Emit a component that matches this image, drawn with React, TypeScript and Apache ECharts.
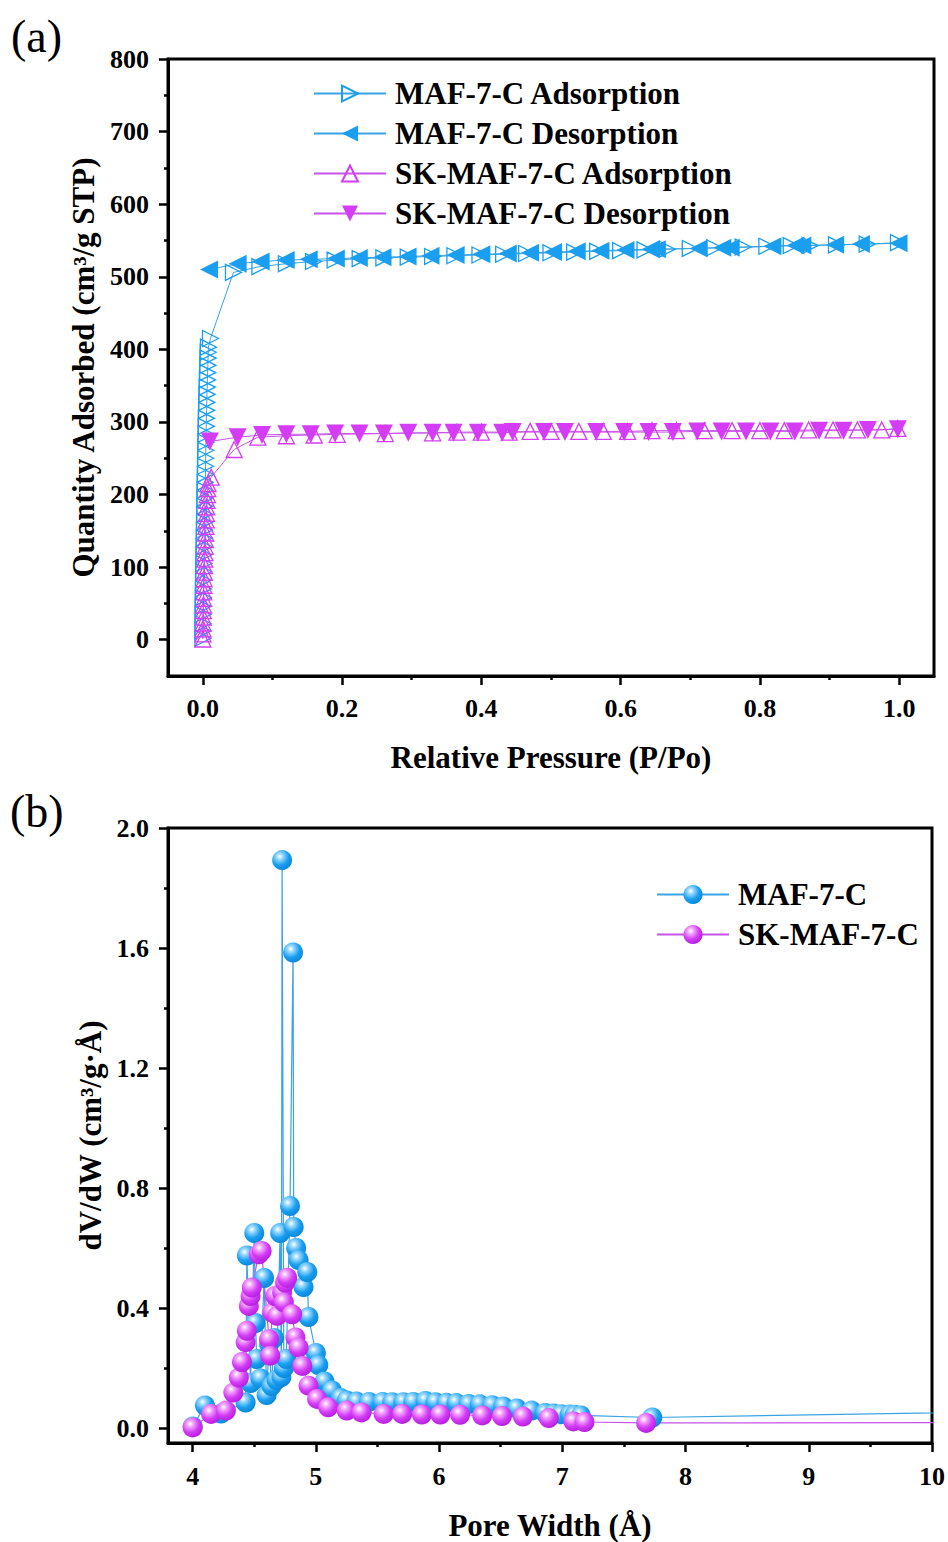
import React, { useEffect, useRef } from 'react';
import * as echarts from 'echarts';

const FONT = '"Liberation Serif", "Times New Roman", serif';
const BLUE = '#1a9ff0';
const BLUE_LINE = '#3aa3e3';
const MAG = '#d43cf5';
const MAG_LINE = '#c853ea';

// ---------- (a) N2 isotherms ----------
const pressureTicks = [0, 0.2, 0.4, 0.6, 0.8, 1.0];
const pressureMinorTicks = [0.1, 0.3, 0.5, 0.7, 0.9];
const quantityTicks = [0, 100, 200, 300, 400, 500, 600, 700, 800];
const quantityMinorTicks = [50, 150, 250, 350, 450, 550, 650, 750];

const mafAdsP = [0.0001, 0.0002, 0.0003, 0.0004, 0.0005, 0.0007, 0.0009, 0.0011, 0.0013, 0.0015, 0.0017, 0.0019, 0.0021, 0.0023, 0.0025, 0.0027, 0.0029, 0.0031, 0.0033, 0.0035, 0.0037, 0.0039, 0.0041, 0.0043, 0.0045, 0.0047, 0.0049, 0.0051, 0.0054, 0.0057, 0.006, 0.0063, 0.0066, 0.0069, 0.0072, 0.0075, 0.0078, 0.0081, 0.011, 0.044, 0.082, 0.12, 0.159, 0.19, 0.226, 0.26, 0.295, 0.33, 0.362, 0.398, 0.432, 0.465, 0.5, 0.534, 0.567, 0.6, 0.635, 0.667, 0.7, 0.735, 0.776, 0.81, 0.845, 0.872, 0.91, 0.954, 0.999];
const mafAdsQ = [2, 12, 22, 35, 46, 58, 70, 82, 94, 105, 117, 128, 140, 151, 162, 173, 184, 195, 206, 217, 228, 239, 250, 261, 272, 283, 294, 305, 316, 327, 338, 348, 358, 368, 378, 388, 396, 403, 415, 506, 514, 518, 521, 523, 525, 526, 527, 528, 529, 530, 531, 532, 533, 534, 535, 536, 537, 538, 539, 540, 541, 542, 543, 543, 544, 545, 547];

const mafDesP = [0.999, 0.945, 0.908, 0.861, 0.851, 0.818, 0.758, 0.746, 0.712, 0.652, 0.643, 0.607, 0.571, 0.537, 0.503, 0.47, 0.438, 0.4, 0.363, 0.327, 0.294, 0.258, 0.224, 0.191, 0.152, 0.119, 0.083, 0.05, 0.009];
const mafDesQ = [546, 545, 544, 543, 543, 542, 540, 540, 539, 538, 538, 537, 536, 535, 534, 533, 532, 531, 530, 529, 528, 527, 526, 525, 524, 523, 521, 518, 510];

const skAdsP = [0.0001, 0.0002, 0.0003, 0.0005, 0.0006, 0.0008, 0.001, 0.0012, 0.0014, 0.0016, 0.0019, 0.0022, 0.0025, 0.0028, 0.0031, 0.0034, 0.0037, 0.004, 0.0044, 0.0048, 0.0052, 0.0056, 0.006, 0.0065, 0.007, 0.0075, 0.012, 0.045, 0.079, 0.12, 0.16, 0.193, 0.262, 0.33, 0.365, 0.4, 0.44, 0.47, 0.5, 0.54, 0.575, 0.61, 0.645, 0.68, 0.72, 0.76, 0.8, 0.835, 0.87, 0.905, 0.94, 0.975, 0.998];
const skAdsQ = [1, 8, 15, 23, 31, 40, 48, 57, 66, 75, 84, 93, 102, 111, 120, 129, 138, 147, 156, 165, 174, 183, 192, 200, 208, 215, 224, 262, 279, 281, 282, 283, 284, 285, 286, 286, 286, 287, 287, 287, 287, 287, 288, 288, 288, 288, 288, 288, 289, 289, 289, 289, 291];

const skDesP = [0.998, 0.955, 0.92, 0.885, 0.85, 0.815, 0.78, 0.745, 0.71, 0.675, 0.64, 0.605, 0.565, 0.52, 0.49, 0.445, 0.43, 0.395, 0.36, 0.33, 0.295, 0.26, 0.225, 0.19, 0.155, 0.12, 0.085, 0.05, 0.01];
const skDesQ = [290, 289, 288, 288, 287, 287, 287, 287, 287, 286, 286, 286, 286, 286, 286, 286, 285, 285, 285, 285, 285, 284, 284, 284, 283, 283, 282, 279, 273];

// ---------- (b) pore size distribution ----------
const widthTicks = [4, 5, 6, 7, 8, 9, 10];
const widthMinorTicks = [4.5, 5.5, 6.5, 7.5, 8.5, 9.5];
const dvTicks = [0, 0.4, 0.8, 1.2, 1.6, 2.0];
const dvMinorTicks = [0.2, 0.6, 1.0, 1.4, 1.8];

const mafW = [4.0, 4.1, 4.23, 4.43, 4.44, 4.47, 4.5, 4.51, 4.52, 4.55, 4.58, 4.6, 4.62, 4.64, 4.66, 4.68, 4.71, 4.72, 4.726, 4.74, 4.76, 4.79, 4.815, 4.82, 4.84, 4.86, 4.9, 4.93, 4.94, 5.0, 5.02, 5.07, 5.13, 5.2, 5.25, 5.33, 5.43, 5.54, 5.62, 5.71, 5.79, 5.89, 5.97, 6.06, 6.14, 6.24, 6.33, 6.43, 6.52, 6.63, 6.75, 6.86, 6.93, 6.99, 7.06, 7.1, 7.15, 7.73, 11.0];
const mafDV = [0.005, 0.075, 0.048, 0.085, 0.575, 0.15, 0.65, 0.35, 0.23, 0.165, 0.5, 0.11, 0.28, 0.14, 0.3, 0.16, 0.65, 0.17, 1.893, 0.2, 0.23, 0.74, 1.585, 0.67, 0.6, 0.56, 0.47, 0.52, 0.37, 0.25, 0.21, 0.155, 0.125, 0.1, 0.092, 0.088, 0.087, 0.087, 0.086, 0.086, 0.087, 0.09, 0.086, 0.084, 0.083, 0.08, 0.079, 0.076, 0.072, 0.065, 0.058, 0.05, 0.048, 0.046, 0.045, 0.044, 0.042, 0.035, 0.057];

const skW = [4.0, 4.15, 4.27, 4.33, 4.375, 4.4, 4.43, 4.44, 4.456, 4.47, 4.48, 4.537, 4.56, 4.62, 4.63, 4.645, 4.67, 4.686, 4.726, 4.74, 4.75, 4.767, 4.807, 4.834, 4.86, 4.89, 4.94, 5.01, 5.1, 5.25, 5.37, 5.55, 5.7, 5.86, 6.01, 6.17, 6.35, 6.51, 6.68, 6.89, 7.09, 7.18, 7.68, 11.0];
const skDV = [0.002, 0.047, 0.058, 0.118, 0.168, 0.22, 0.286, 0.324, 0.407, 0.44, 0.468, 0.579, 0.59, 0.296, 0.241, 0.385, 0.44, 0.374, 0.452, 0.419, 0.485, 0.501, 0.379, 0.302, 0.268, 0.207, 0.141, 0.097, 0.069, 0.058, 0.052, 0.047, 0.047, 0.045, 0.045, 0.044, 0.042, 0.04, 0.038, 0.033, 0.022, 0.02, 0.017, 0.018];

const zip = (a: number[], b: number[]) => a.map((v, i) => [v, b[i]]);

const ball = (light: string, mid: string, dark: string) =>
  new echarts.graphic.RadialGradient(0.38, 0.32, 0.72, [
    { offset: 0, color: '#ffffff' },
    { offset: 0.22, color: light },
    { offset: 0.6, color: mid },
    { offset: 1, color: dark },
  ]);

const labelStyle = { fontFamily: FONT, fontWeight: 'bold' as const, fontSize: 26, color: '#000' };
const nameStyle = { fontFamily: FONT, fontWeight: 'bold' as const, fontSize: 31, color: '#000' };

function mainAxis(gridIndex: number, min: number, max: number, ticks: number[], fmt: (v: number) => string, name: string, gap: number, isY: boolean, labelMargin: number) {
  return {
    type: 'value',
    gridIndex,
    min,
    max,
    position: isY ? 'left' : 'bottom',
    name,
    nameLocation: 'middle',
    nameGap: gap,
    nameTextStyle: nameStyle,
    axisLine: { show: true, onZero: false, lineStyle: { color: '#000', width: 3 } },
    axisTick: { show: true, length: 9, customValues: ticks, lineStyle: { color: '#000', width: 2.5 } },
    axisLabel: { show: true, margin: labelMargin, customValues: ticks, formatter: fmt, ...labelStyle },
    splitLine: { show: false },
  };
}

function minorAxis(gridIndex: number, min: number, max: number, ticks: number[], isY: boolean) {
  return {
    type: 'value',
    gridIndex,
    min,
    max,
    position: isY ? 'left' : 'bottom',
    axisLine: { show: false, onZero: false },
    axisTick: { show: true, length: 4, customValues: ticks, lineStyle: { color: '#000', width: 2.5 } },
    axisLabel: { show: false, customValues: ticks },
    splitLine: { show: false },
  };
}

const legendText = { fontFamily: FONT, fontWeight: 'bold' as const, fontSize: 31, color: '#000', padding: [0, 0, 0, 4] };

export default function App() {
  const ref = useRef<HTMLDivElement>(null);
  useEffect(() => {
    if (!ref.current) return;
    const chart = echarts.init(ref.current, null, { renderer: 'svg' });
    const blueBall = ball('#9ad8ff', BLUE, '#0a84d6');
    const magBall = ball('#f3a6ff', MAG, '#b21ddc');
    const hollow = (c: string) => ({ color: 'rgba(255,255,255,0)', borderColor: c, borderWidth: 1.3 });

    chart.setOption({
      animation: false,
      backgroundColor: '#fff',
      grid: [
        { left: 168, top: 59, width: 766, height: 617, show: true, borderColor: '#000', borderWidth: 3, backgroundColor: 'transparent' },
        { left: 168, top: 828, width: 765, height: 616, show: true, borderColor: '#000', borderWidth: 3, backgroundColor: 'transparent' },
      ],
      xAxis: [
        mainAxis(0, -0.05, 1.05, pressureTicks, (v: number) => v.toFixed(1), 'Relative Pressure (P/Po)', 66, false, 19),
        minorAxis(0, -0.05, 1.05, pressureMinorTicks, false),
        mainAxis(1, 3.8, 10, widthTicks, (v: number) => String(v), 'Pore Width (Å)', 67, false, 20),
        minorAxis(1, 3.8, 10, widthMinorTicks, false),
      ],
      yAxis: [
        mainAxis(0, -50, 800, quantityTicks, (v: number) => String(v), 'Quantity Adsorbed (cm³/g STP)', 63, true, 19),
        minorAxis(0, -50, 800, quantityMinorTicks, true),
        mainAxis(1, -0.05, 2.0, dvTicks, (v: number) => v.toFixed(1), 'dV/dW (cm³/g·Å)', 56, true, 19),
        minorAxis(1, -0.05, 2.0, dvMinorTicks, true),
      ],
      legend: [
        {
          orient: 'vertical',
          left: 313,
          top: 78,
          padding: 0,
          itemWidth: 72,
          itemHeight: 20,
          itemGap: 9,
          data: ['MAF-7-C Adsorption', 'MAF-7-C Desorption', 'SK-MAF-7-C Adsorption', 'SK-MAF-7-C Desorption'],
          textStyle: legendText,
          selectedMode: false,
        },
        {
          orient: 'vertical',
          left: 656,
          top: 879,
          padding: 0,
          itemWidth: 72,
          itemHeight: 24,
          itemGap: 9,
          data: ['MAF-7-C', 'SK-MAF-7-C'],
          textStyle: legendText,
          selectedMode: false,
        },
      ],
      graphic: [
        { type: 'text', left: 11, top: 13, style: { text: '(a)', fontFamily: FONT, fontSize: 46, fill: '#000' } },
        { type: 'text', left: 10, top: 788, style: { text: '(b)', fontFamily: FONT, fontSize: 46, fill: '#000' } },
      ],
      series: [
        {
          name: 'MAF-7-C Adsorption', type: 'line', xAxisIndex: 0, yAxisIndex: 0,
          data: zip(mafAdsP, mafAdsQ), symbol: 'triangle', symbolRotate: -90, symbolSize: 16,
          itemStyle: hollow(BLUE), lineStyle: { color: BLUE_LINE, width: 1 }, emphasis: { disabled: true },
        },
        {
          name: 'MAF-7-C Desorption', type: 'line', xAxisIndex: 0, yAxisIndex: 0,
          data: zip(mafDesP, mafDesQ), symbol: 'triangle', symbolRotate: 90, symbolSize: 18,
          itemStyle: { color: BLUE }, lineStyle: { color: BLUE_LINE, width: 1 }, emphasis: { disabled: true },
        },
        {
          name: 'SK-MAF-7-C Adsorption', type: 'line', xAxisIndex: 0, yAxisIndex: 0,
          data: zip(skAdsP, skAdsQ), symbol: 'triangle', symbolSize: 16,
          itemStyle: hollow(MAG), lineStyle: { color: MAG_LINE, width: 1 }, emphasis: { disabled: true },
        },
        {
          name: 'SK-MAF-7-C Desorption', type: 'line', xAxisIndex: 0, yAxisIndex: 0,
          data: zip(skDesP, skDesQ), symbol: 'triangle', symbolRotate: 180, symbolSize: 18,
          itemStyle: { color: MAG }, lineStyle: { color: MAG_LINE, width: 1 }, emphasis: { disabled: true },
        },
        {
          name: 'MAF-7-C', type: 'line', xAxisIndex: 2, yAxisIndex: 2,
          data: zip(mafW, mafDV), symbol: 'circle', symbolSize: 20,
          itemStyle: { color: blueBall }, lineStyle: { color: BLUE_LINE, width: 1.2 }, emphasis: { disabled: true },
        },
        {
          name: 'SK-MAF-7-C', type: 'line', xAxisIndex: 2, yAxisIndex: 2,
          data: zip(skW, skDV), symbol: 'circle', symbolSize: 20,
          itemStyle: { color: magBall }, lineStyle: { color: MAG_LINE, width: 1.2 }, emphasis: { disabled: true },
        },
      ],
    });
    return () => chart.dispose();
  }, []);
  return <div ref={ref} style={{ position: 'absolute', left: 0, top: 0, width: 948, height: 1542, background: '#fff' }} />;
}
